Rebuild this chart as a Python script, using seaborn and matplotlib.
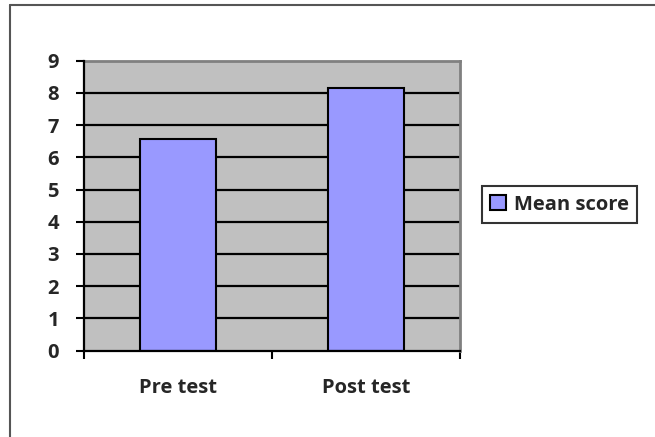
import matplotlib
matplotlib.use("Agg")
import matplotlib.pyplot as plt
import seaborn as sns
import pandas as pd
from matplotlib.lines import Line2D

# Data
categories = ["Pre test", "Post test"]
mean_scores = [6.58, 8.15]
series_name = "Mean score"
y_ticks = list(range(0, 10))

sns.set_style("white")
plt.rcParams["font.family"] = ["Open Sans", "DejaVu Sans"]
plt.rcParams["font.weight"] = "bold"

df = pd.DataFrame({"test": categories, "score": mean_scores})

fig = plt.figure(figsize=(6.55, 4.37), dpi=100)
ax = fig.add_axes([84 / 655, 86.5 / 437, 376 / 655, 289.8 / 437])
ax.set_facecolor("#C0C0C0")

sns.barplot(data=df, x="test", y="score", color="#9999FF", width=0.4,
            edgecolor="black", linewidth=1.5, saturation=1, ax=ax,
            label=series_name, zorder=3)

ax.set_ylim(0, 9)
ax.set_xlim(-0.5, 1.5)
ax.set_yticks(y_ticks)
for v in y_ticks[1:-1]:
    ax.axhline(v, color="black", lw=1.6, zorder=1)

ax.set_xlabel("")
ax.set_ylabel("")

for s in ["left", "bottom"]:
    ax.spines[s].set_color("black")
    ax.spines[s].set_linewidth(1.6)
for s in ["top", "right"]:
    ax.spines[s].set_color("#808080")
    ax.spines[s].set_linewidth(2)
ax.spines["left"].set_zorder(4)
ax.spines["bottom"].set_zorder(4)

fs = 14.5
ax.tick_params(axis="y", direction="out", length=6, width=1.5, color="black",
               pad=12, labelsize=fs, left=True)
ax.tick_params(axis="x", which="major", length=0, pad=20, labelsize=fs)
ax.set_xticks([-0.5, 0.5, 1.5], minor=True)
ax.tick_params(axis="x", which="minor", direction="out", length=6, width=1.5,
               color="black", bottom=True)
for lbl in ax.get_yticklabels() + ax.get_xticklabels():
    lbl.set_fontweight("bold")

leg = ax.legend(loc="center left", bbox_to_anchor=(482 / 655, 1 - 204.5 / 437),
                bbox_transform=fig.transFigure, frameon=True, fancybox=False,
                edgecolor="black", prop={"weight": "bold", "size": fs},
                handlelength=0.8, handleheight=0.8, handletextpad=0.4,
                borderpad=0.4, borderaxespad=0)
leg.get_frame().set_linewidth(1.5)

# Outer frame edges on the left and top of the figure
fig.add_artist(Line2D([9.5 / 655, 9.5 / 655], [0, 1 - 5 / 437], color="#555555",
                      lw=1.5, transform=fig.transFigure))
fig.add_artist(Line2D([9.5 / 655, 1], [1 - 5 / 437, 1 - 5 / 437], color="#555555",
                      lw=1.5, transform=fig.transFigure))

fig.savefig("out.png", dpi=100)
